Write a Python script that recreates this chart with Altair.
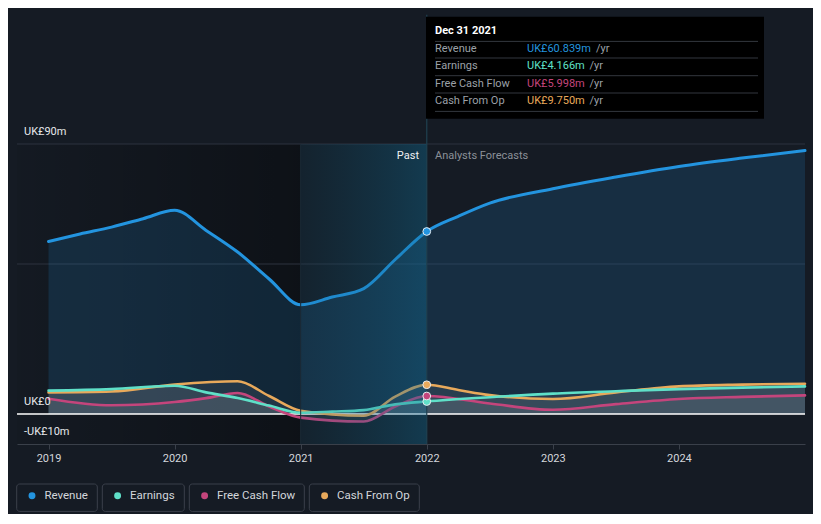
import altair as alt
import pandas as pd

FONT = "Roboto"
BG = "#151b24"

# ---------------- data ----------------
series_names = ["Revenue", "Earnings", "Free Cash Flow", "Cash From Op"]
series_colors = ["#2394df", "#5fe0c8", "#c4457c", "#e8a95b"]

rev_t = [2019.0, 2019.25, 2019.5, 2019.75, 2020.0, 2020.25, 2020.5, 2020.75, 2021.0,
         2021.25, 2021.5, 2021.75, 2022.0, 2022.25, 2022.5, 2023.0, 2023.5, 2024.0, 2024.5, 2025.0]
rev_v = [57.5, 60.0, 62.3, 65.1, 67.9, 61.2, 54.0, 45.0, 36.4,
         39.0, 41.8, 51.5, 60.839, 65.9, 70.3, 75.1, 79.0, 82.5, 85.3, 87.8]

earn_t = [2019.0, 2019.5, 2020.0, 2020.25, 2020.5, 2020.75, 2021.0, 2021.25, 2021.5, 2021.75,
          2022.0, 2022.5, 2023.0, 2023.5, 2024.0, 2024.5, 2025.0]
earn_v = [7.8, 8.3, 9.4, 7.2, 5.3, 2.8, 0.4, 0.8, 1.3, 3.2,
          4.166, 5.6, 6.8, 7.6, 8.3, 8.8, 9.2]

fcf_t = [2019.0, 2019.5, 2020.0, 2020.25, 2020.5, 2020.75, 2021.0, 2021.5, 2021.75,
         2022.0, 2022.5, 2023.0, 2023.5, 2024.0, 2024.5, 2025.0]
fcf_v = [5.1, 2.9, 4.0, 5.3, 7.0, 2.5, -1.2, -2.5, 2.5,
         5.998, 3.5, 1.4, 3.3, 5.0, 5.7, 6.2]

cfo_t = [2019.0, 2019.5, 2020.0, 2020.5, 2020.75, 2021.0, 2021.5, 2021.75,
         2022.0, 2022.25, 2022.5, 2023.0, 2023.5, 2024.0, 2024.5, 2025.0]
cfo_v = [7.2, 7.5, 9.8, 10.9, 6.0, 1.1, -0.6, 5.8,
         9.75, 8.0, 6.3, 5.0, 7.2, 9.2, 9.8, 10.1]

tooltip_title = "Dec 31 2021"
tooltip_values = ["UK£60.839m", "UK£4.166m", "UK£5.998m", "UK£9.750m"]
x_ticks = [2019, 2020, 2021, 2022, 2023, 2024]
y_tick_values = [90, 0, -10]
y_tick_labels = ["UK£90m", "UK£0", "-UK£10m"]
grid_values = [90, 50]

series_data = [(rev_t, rev_v), (earn_t, earn_v), (fcf_t, fcf_v), (cfo_t, cfo_v)]
rows = []
for name, (ts, vs) in zip(series_names, series_data):
    for t, v in zip(ts, vs):
        rows.append({"series": name, "t": t, "v": v})
df = pd.DataFrame(rows)
last = df[df["t"] == 2022.0]

# ---------------- layout ----------------
W, H = 788, 300
X0, X1 = 2018.75, 2025.0
xs = alt.Scale(domain=[X0, X1], nice=False, zero=False)
ys = alt.Scale(domain=[-10, 90], nice=False, zero=False)
cs = alt.Scale(domain=series_names, range=series_colors)
one = alt.Data(values=[{"a": 1}])

xaxis = alt.Axis(values=x_ticks, format="d", labelColor="#d4d7dc", labelFontSize=11,
                 labelFont=FONT, tickColor="#3a404a", tickSize=5, domainColor="#3a404a",
                 domainWidth=1, grid=False, title=None, labelPadding=3, labelFlush=False)
X = alt.X("t:Q", scale=xs, axis=xaxis)
Y = alt.Y("v:Q", scale=ys, axis=None)


def txt(s, x, y, color, size=11, align="left", weight="normal"):
    return alt.Chart(one).mark_text(
        text=s, align=align, baseline="middle", color=color, fontSize=size,
        font=FONT, fontWeight=weight
    ).encode(x=alt.value(x), y=alt.value(y))


def rect_px(x, x2, y, y2, **kw):
    return alt.Chart(one).mark_rect(**kw).encode(
        x=alt.value(x), x2=alt.value(x2), y=alt.value(y), y2=alt.value(y2))


def rule_px(x, x2, y, y2, color, width=1):
    return alt.Chart(one).mark_rule(color=color, strokeWidth=width).encode(
        x=alt.value(x), x2=alt.value(x2), y=alt.value(y), y2=alt.value(y2))


layers = []

# past shading (darker towards present)
past_grad = alt.Gradient(gradient="linear", x1=0, x2=1, y1=0, y2=0,
                         stops=[alt.GradientStop(color="rgba(0,0,0,0.05)", offset=0),
                                alt.GradientStop(color="rgba(0,0,0,0.36)", offset=1)])
shade_df = pd.DataFrame({"t": [X0], "t2": [2021.0], "v": [90], "v2": [-10]})
layers.append(alt.Chart(shade_df).mark_rect(color=past_grad).encode(
    x=X, x2="t2:Q", y=Y, y2="v2:Q"))

# gridlines
grid_df = pd.DataFrame({"v": grid_values})
layers.append(alt.Chart(grid_df).mark_rule(color="#2d333e", strokeWidth=1).encode(
    y=Y, x=alt.value(0), x2=alt.value(W)))

# areas
layers.append(alt.Chart(df[df.series == "Revenue"]).mark_area(
    interpolate="monotone", color="#2394df", opacity=0.16).encode(
    x=X, y=Y, y2=alt.datum(0)))
for name in series_names[1:][::-1]:
    layers.append(alt.Chart(df[df.series == name]).mark_area(
        interpolate="monotone", color="#9aa3ad", opacity=0.13).encode(
        x=X, y=Y, y2=alt.datum(0)))

# zero line
layers.append(alt.Chart(pd.DataFrame({"v": [0]})).mark_rule(color="#ffffff", strokeWidth=1.5).encode(
    y=Y, x=alt.value(0), x2=alt.value(W)))

# lines
for name in series_names[::-1]:
    sw = 3 if name == "Revenue" else 2.6
    layers.append(alt.Chart(df[df.series == name]).mark_line(
        interpolate="monotone", strokeWidth=sw, strokeCap="round").encode(
        x=X, y=Y, color=alt.Color("series:N", scale=cs, legend=None)))

# highlight band 2021-2022
band_grad = alt.Gradient(gradient="linear", x1=0, x2=1, y1=0, y2=0,
                         stops=[alt.GradientStop(color="rgba(14,90,120,0.12)", offset=0),
                                alt.GradientStop(color="rgba(16,110,150,0.38)", offset=1)])
band_df = pd.DataFrame({"t": [2021.0], "t2": [2022.0], "v": [90], "v2": [-10]})
layers.append(alt.Chart(band_df).mark_rect(color=band_grad).encode(
    x=X, x2="t2:Q", y=Y, y2="v2:Q"))
layers.append(alt.Chart(pd.DataFrame({"t": [2021.0]})).mark_rule(color="#1b2a36", strokeWidth=1).encode(
    x=X, y=alt.value(0), y2=alt.value(H)))

# present rule
layers.append(alt.Chart(pd.DataFrame({"t": [2022.0]})).mark_rule(color="#1f4150", strokeWidth=1.2).encode(
    x=X, y=alt.value(-129.3), y2=alt.value(H)))

# dots at present
layers.append(alt.Chart(last).mark_point(filled=True, size=60, stroke="#e8ecf0",
                                          strokeWidth=1, opacity=1).encode(
    x=X, y=Y, fill=alt.Color("series:N", scale=cs, legend=None)))

# y labels
ylab_df = pd.DataFrame({"v": y_tick_values, "lab": y_tick_labels})
layers.append(alt.Chart(ylab_df).mark_text(align="left", baseline="middle", dy=-12,
                                           color="#e6e8eb", fontSize=11, font=FONT).encode(
    x=alt.value(7), y=Y, text="lab:N"))

# Past / forecasts labels
layers.append(txt("Past", 402, 11.7, "#eef0f2", align="right"))
layers.append(txt("Analysts Forecasts", 418, 11.7, "#8b9098"))

# tooltip
layers.append(rect_px(409, 747, -127.3, -25.3, color="#000000"))
layers.append(txt(tooltip_title, 418, -113.3, "#ffffff", weight="bold"))
for yy in [-102.6, -86.0, -68.3, -51.0, -32.6]:
    layers.append(rule_px(418, 741, yy, yy, "#33373e"))
row_y = [-95.3, -77.6, -60.0, -42.6]
for name, val, col, yy in zip(series_names, tooltip_values, series_colors, row_y):
    layers.append(txt(name, 418, yy, "#9ca1a8"))
    layers.append(txt(val, 510, yy, col))
    layers.append(txt("/yr", 510 + len(val) * 6.5 + 4, yy, "#9ca1a8"))

# legend
box_w = [80.6, 82.0, 115.0, 110.0]
bx = -0.3
for name, col, w in zip(series_names, series_colors, box_w):
    layers.append(rect_px(bx, bx + w, 340, 367.4, fill="rgba(0,0,0,0)", stroke="#3b404b",
                          strokeWidth=1, cornerRadius=3))
    layers.append(alt.Chart(one).mark_point(filled=True, size=48, color=col, opacity=1).encode(
        x=alt.value(bx + 15.3), y=alt.value(351.7)))
    layers.append(txt(name, bx + 27.7, 351.7, "#d3d6db", size=11.5))
    bx += w + 5

chart = alt.layer(*layers).properties(
    width=W, height=H, background=BG,
    padding={"left": 9, "top": 136, "right": 8, "bottom": 70},
    autosize=alt.AutoSizeParams(type="none")
).configure_view(stroke=None)

chart.save("out.html", embed_options={"renderer": "svg", "actions": False})
